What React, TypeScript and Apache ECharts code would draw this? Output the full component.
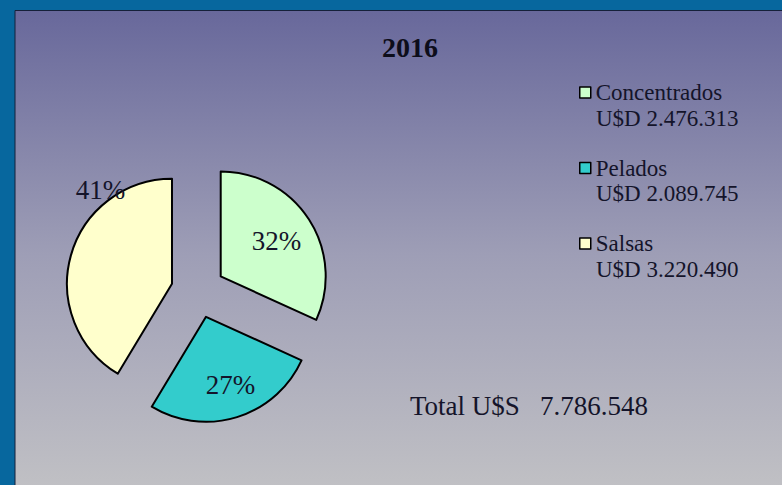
import React, { useEffect, useRef } from "react";
import * as echarts from "echarts";

const title = "2016";
const categories = ["Concentrados", "Pelados", "Salsas"];
const values = [2476313, 2089745, 3220490];
const colors = ["#ccffcc", "#33cccc", "#ffffcc"];
const currencyPrefix = "U$D";
const totalPrefix = "Total U$S";
// label nudges relative to ECharts' inside position (Excel had manual label placement)
const labelNudges = [
  [9, -5],
  [8, 15],
  [-18, -79],
];

const fmt = (v: number) => String(v).replace(/\B(?=(\d{3})+(?!\d))/g, ".");
const FONT = "'Liberation Serif', 'Times New Roman', serif";

export default function App() {
  const ref = useRef<HTMLDivElement>(null);
  useEffect(() => {
    if (!ref.current) return;
    const chart = echarts.init(ref.current, null, { renderer: "svg" });
    const total = values.reduce((a, b) => a + b, 0);
    const legendTop = 81;
    const rowGap = 75.5;
    chart.setOption({
      animation: false,
      backgroundColor: "#07679e",
      title: {
        text: title,
        left: 410,
        top: 47,
        textAlign: "center",
        textVerticalAlign: "middle",
        padding: 0,
        textStyle: { fontFamily: FONT, fontSize: 28, fontWeight: "bold", color: "#0d0d1a" },
      },
      graphic: [
        {
          type: "rect",
          z: -10,
          silent: true,
          shape: { x: 15, y: 10.5, width: 780, height: 490 },
          style: {
            fill: new echarts.graphic.LinearGradient(0, 0, 0, 1, [
              { offset: 0, color: "#68689b" },
              { offset: 0.5, color: "#9e9eb6" },
              { offset: 1, color: "#c2c2c5" },
            ]),
            stroke: "#15203a",
            lineWidth: 1,
          },
        },
        ...categories.map((c, i) => ({
          type: "text",
          z: 10,
          left: 596,
          top: legendTop + 25.5 + i * rowGap,
          style: {
            text: `${currencyPrefix} ${fmt(values[i])}`,
            fontFamily: FONT,
            fontSize: 23,
            fill: "#14142a",
          },
        })),
        {
          type: "text",
          z: 10,
          left: 410,
          top: 392,
          style: {
            text: `${totalPrefix}   ${fmt(total)}`,
            fontFamily: FONT,
            fontSize: 27,
            fill: "#14142a",
          },
        },
      ],
      legend: {
        orient: "vertical",
        left: 579,
        top: legendTop,
        padding: 0,
        itemGap: 52.5,
        itemWidth: 11,
        itemHeight: 11,
        icon: "rect",
        selectedMode: false,
        data: categories,
        itemStyle: { borderColor: "#000", borderWidth: 1.5 },
        textStyle: { fontFamily: FONT, fontSize: 23, color: "#14142a" },
      },
      series: [
        {
          type: "pie",
          center: [198, 291],
          radius: 105,
          startAngle: 90,
          clockwise: true,
          selectedMode: "multiple",
          selectedOffset: 27,
          emphasis: { disabled: true },
          itemStyle: { borderColor: "#000", borderWidth: 2 },
          label: {
            show: true,
            position: "inside",
            fontFamily: FONT,
            fontSize: 27,
            color: "#14142a",
            formatter: (p: any) => Math.round(p.percent) + "%",
          },
          labelLine: { show: false },
          labelLayout: (p: any) => ({ dx: labelNudges[p.dataIndex][0], dy: labelNudges[p.dataIndex][1] }),
          data: categories.map((c, i) => ({
            name: c,
            value: values[i],
            selected: true,
            itemStyle: { color: colors[i] },
          })),
        },
      ],
    });
    return () => chart.dispose();
  }, []);
  return (
    <div
      ref={ref}
      style={{ position: "absolute", left: 0, top: 0, width: 782, height: 485 }}
    />
  );
}
